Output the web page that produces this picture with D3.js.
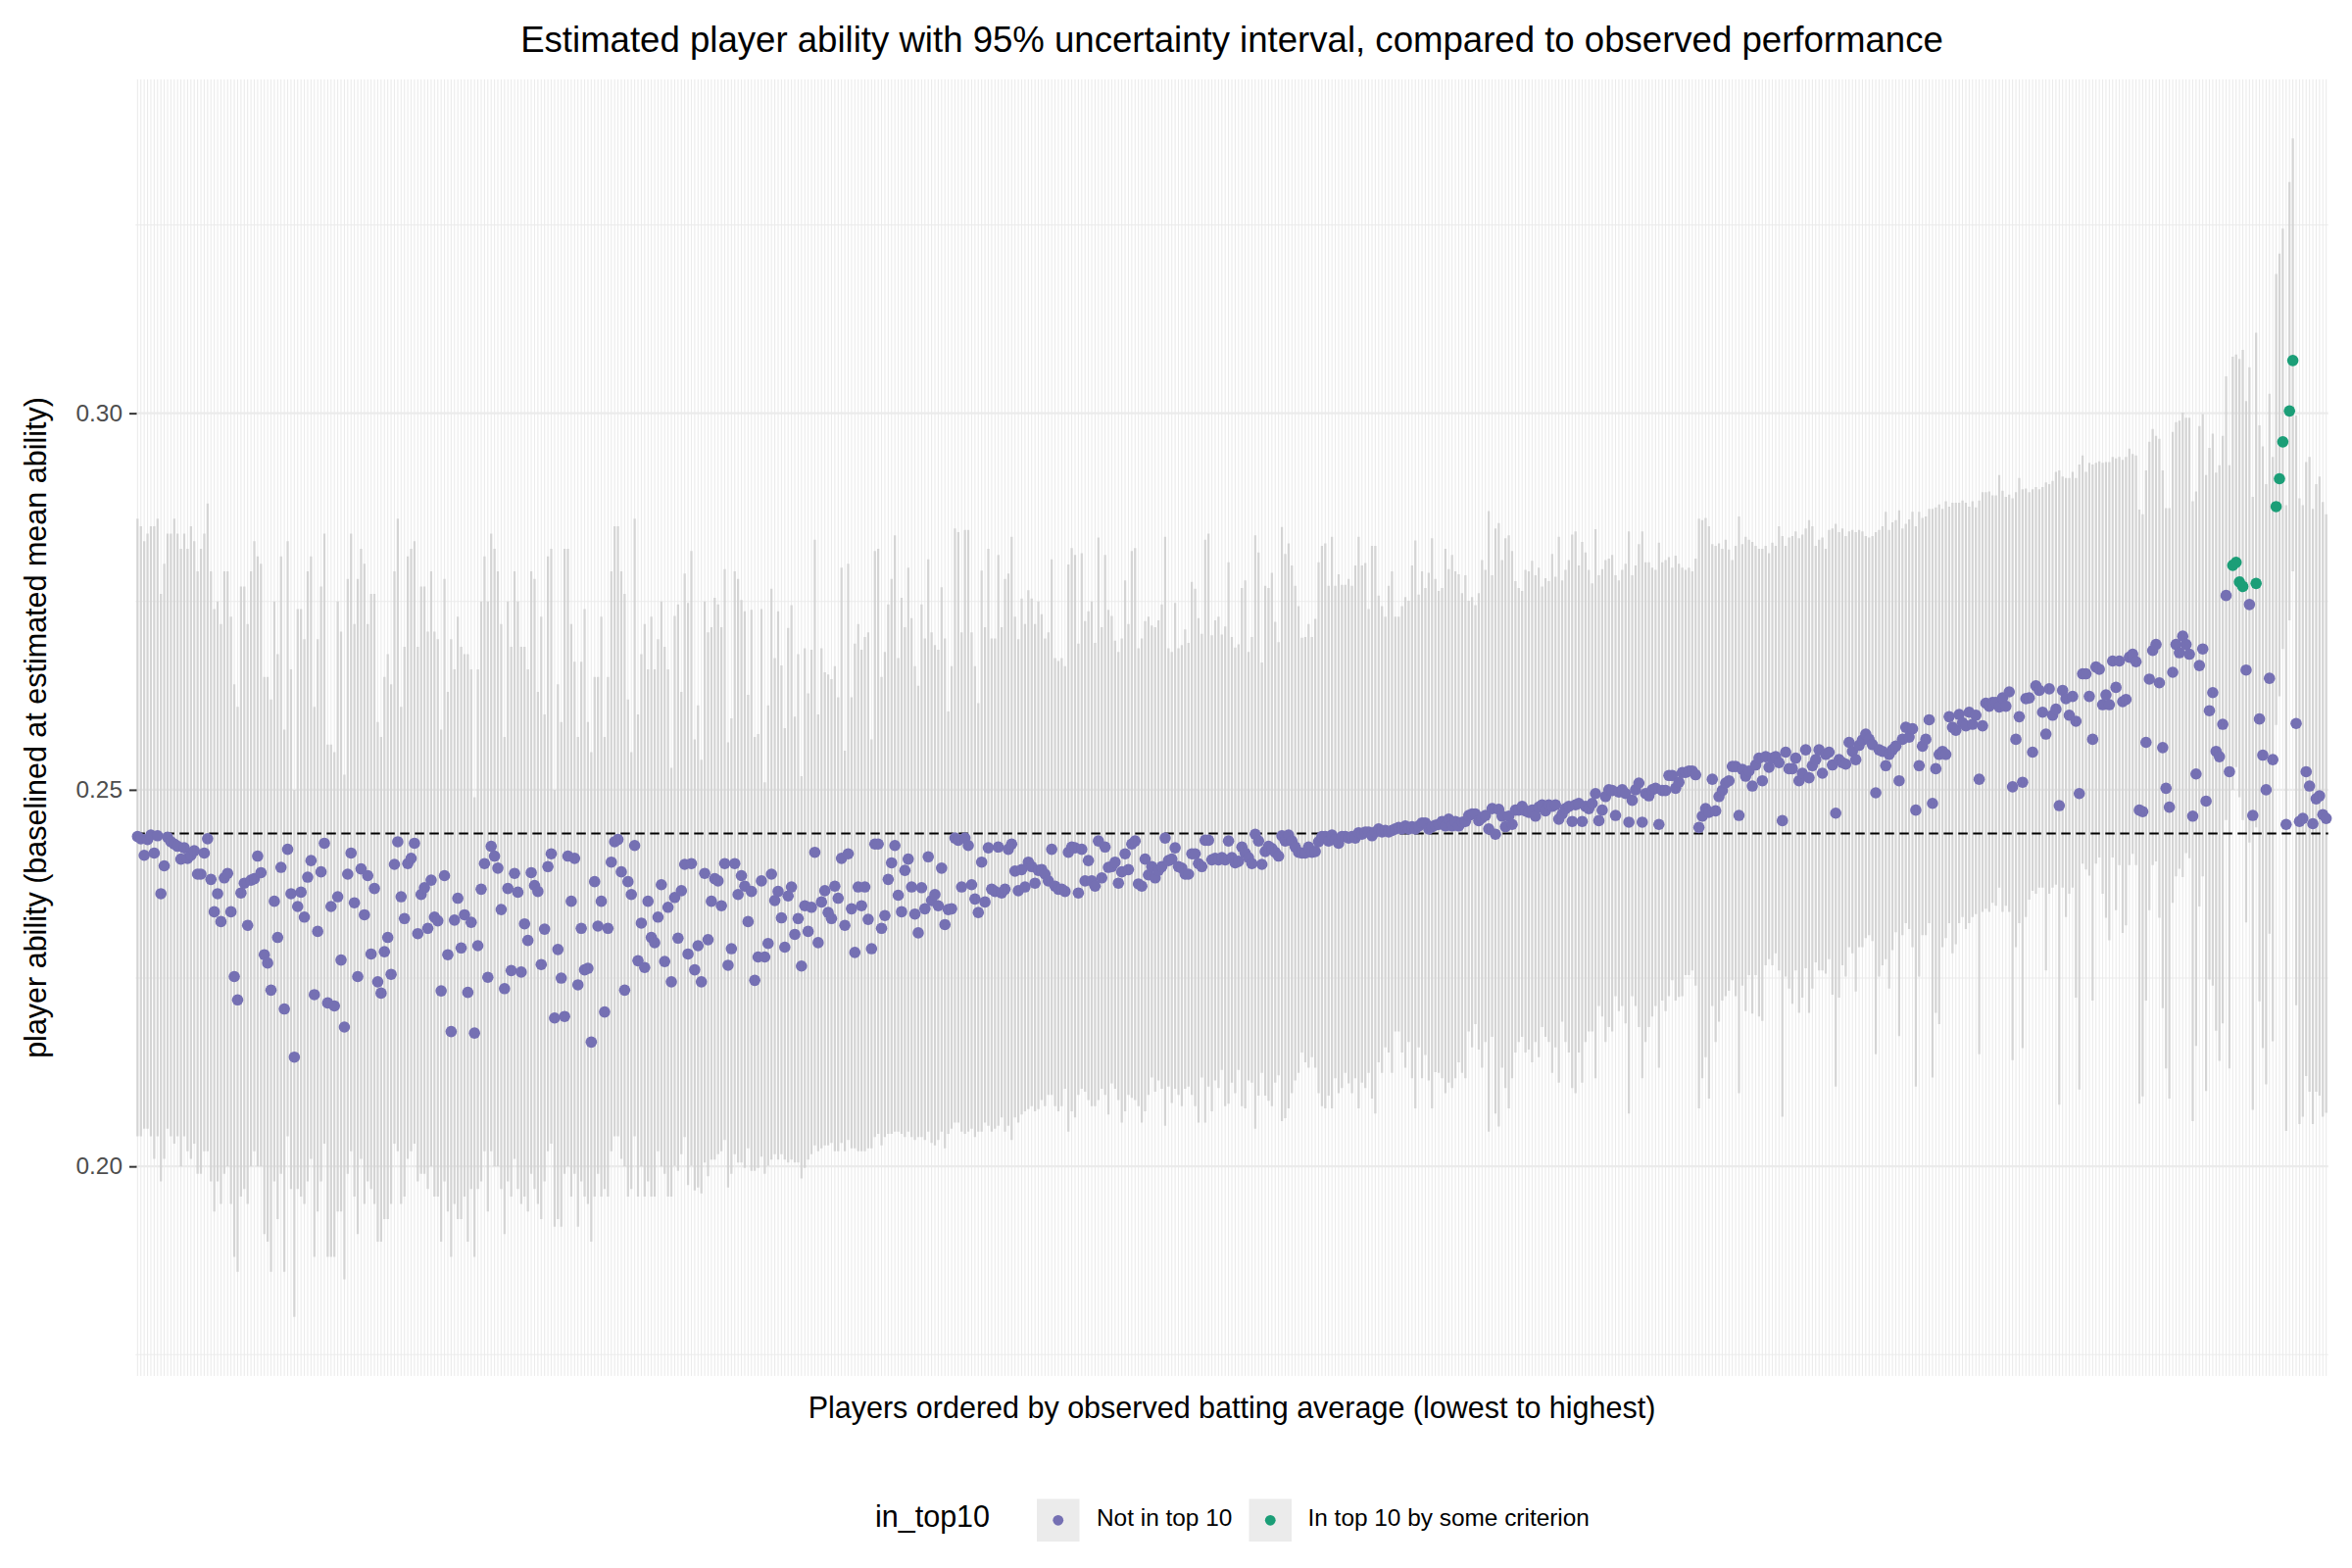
<!DOCTYPE html>
<html>
<head>
<meta charset="utf-8">
<script src="https://cdn.jsdelivr.net/npm/d3@7/dist/d3.min.js"></script>
<style>
  body { margin: 0; background: #ffffff; }
  svg { display: block; }
  text { font-family: "Liberation Sans", Arial, Helvetica, sans-serif; }
</style>
</head>
<body>
<svg id="chart" width="2400" height="1600"></svg>
<script>
// ---------------- DATA (values in thousandths of batting-average units) ----------------
// Point estimate of each player's ability, players ordered by observed batting average (rank 1 = lowest)
const estimateMilli = [
243.8,243.5,241.3,243.4,244.0,241.6,243.9,236.2,239.9,243.7,243.1,242.8,242.5,240.8,242.3,240.9,241.3,241.9,238.8,238.8,
241.6,243.5,238.1,233.8,236.2,232.5,238.3,238.9,233.8,225.2,222.1,236.3,237.6,232.0,238.0,238.2,241.2,239.0,228.1,227.0,
223.4,235.2,230.4,239.7,220.9,242.1,236.2,214.5,234.5,236.4,233.1,238.4,240.6,222.8,231.2,239.1,242.9,221.7,234.5,221.3,
235.8,227.4,218.5,238.8,241.6,235.0,225.2,239.5,233.4,238.6,228.2,236.9,224.5,223.0,228.5,230.4,225.5,240.1,243.1,235.8,
232.9,240.2,240.9,242.9,230.9,236.1,237.0,231.6,238.0,233.1,232.6,223.3,238.6,228.1,217.9,232.7,235.6,229.0,233.4,223.1,
232.4,217.7,229.3,236.8,240.2,225.1,242.5,241.2,239.6,234.1,223.6,236.9,226.0,238.9,236.4,225.8,232.2,230.0,239.0,237.3,
236.5,226.8,231.5,239.8,241.5,219.7,228.8,225.0,219.9,241.2,235.2,240.9,224.1,231.6,226.1,226.3,216.5,237.8,231.9,235.2,
220.5,231.6,240.4,243.1,243.4,239.1,223.4,237.8,236.1,242.6,227.3,232.3,226.4,235.2,230.4,229.7,233.1,237.4,227.2,
234.4,224.5,235.7,230.3,236.6,240.1,228.2,240.2,226.1,229.3,224.5,238.9,230.1,235.2,238.2,237.9,234.6,240.2,226.7,228.9,
240.2,236.1,238.6,237.2,232.5,236.5,224.7,227.8,237.9,227.8,229.6,238.8,235.3,236.5,233.0,229.1,235.9,237.1,230.8,232.9,
226.6,234.6,231.2,234.4,241.7,229.7,235.1,236.6,233.7,232.9,237.2,235.6,240.9,232.0,241.5,234.2,228.4,237.1,234.6,237.1,
232.8,228.9,242.8,242.8,231.6,233.3,238.1,240.3,242.6,236.0,233.8,239.3,240.8,237.1,233.5,231.0,237.0,234.2,241.1,235.3,
236.1,234.6,239.6,232.1,234.1,234.2,243.6,243.3,237.1,243.6,242.6,237.4,235.5,233.7,240.4,235.1,242.3,236.8,236.5,242.4,
236.3,236.8,242.1,242.8,239.2,236.6,239.4,237.1,240.4,239.8,237.6,239.3,239.4,238.8,237.9,242.1,237.2,236.8,236.8,236.5,
241.7,242.4,242.3,236.3,242.1,237.9,240.6,237.9,237.2,243.2,238.3,242.4,239.7,239.8,240.4,237.6,239.1,241.5,239.4,242.8,
243.2,237.5,237.2,240.8,238.7,239.8,238.3,239.3,239.8,243.6,240.6,240.8,242.3,239.8,239.6,238.8,238.8,241.5,241.5,240.2,
239.8,243.3,243.3,240.7,240.9,
240.7,241.0,240.7,243.2,241.0,240.3,240.5,242.4,241.6,241.0,240.2,244.1,243.2,240.1,241.8,242.5,242.2,241.7,241.2,243.9,
243.2,244.0,243.2,242.4,241.7,241.6,241.6,242.4,241.7,241.8,243.1,243.8,243.8,243.2,244.0,243.4,242.9,243.8,243.8,243.6,
243.8,243.6,244.3,244.1,244.4,244.4,243.9,244.4,244.8,244.4,244.6,244.4,244.6,244.8,245.0,244.8,245.2,244.8,245.1,244.8,
245.2,245.6,245.6,244.8,245.1,245.3,245.4,245.8,245.2,246.1,245.2,245.8,245.2,245.7,245.8,246.6,246.8,246.8,245.9,246.3,
246.6,244.8,247.5,244.1,247.4,246.5,245.1,246.5,245.4,247.3,247.3,247.8,247.2,247.0,247.3,246.5,247.7,248.0,247.2,248.0,
247.8,248.0,246.1,246.8,247.5,247.8,245.8,248.0,248.2,245.8,247.8,247.5,248.2,249.5,245.9,247.3,249.1,250.0,249.9,246.6,
249.7,250.0,249.5,245.7,248.6,250.0,250.9,245.7,249.5,249.2,250.0,250.2,245.4,249.9,249.9,251.9,251.9,250.2,251.0,252.3,
252.3,252.5,252.5,252.0,245.0,246.5,247.5,247.0,251.4,247.2,249.1,249.9,250.9,251.2,253.1,253.1,246.6,252.7,251.8,252.5,
250.5,253.3,254.2,
251.2,254.4,253.0,254.2,254.4,253.6,245.9,255.0,252.8,252.8,254.2,251.2,252.2,255.3,251.6,253.2,254.0,255.3,252.2,254.7,
255.0,253.3,246.9,254.0,253.6,253.4,256.3,255.1,254.0,255.9,256.6,257.4,256.7,256.0,249.6,255.3,255.1,253.2,254.7,255.3,
255.8,251.2,256.7,258.3,257.0,258.1,247.3,253.2,255.8,256.7,259.3,248.2,252.8,254.7,255.1,254.7,259.7,258.3,257.9,260.0,
258.9,258.5,260.3,258.7,259.9,251.4,258.5,261.5,261.1,261.6,261.6,261.0,262.2,261.1,263.0,250.4,256.7,259.7,251.0,262.1,
262.2,255.0,263.8,263.2,260.3,257.4,263.4,259.9,260.7,247.9,263.2,262.1,259.9,262.4,259.1,249.5,265.4,265.4,262.4,256.7,
266.3,266.0,261.3,
262.6,261.3,267.1,263.6,267.1,261.7,262.0,267.6,268.0,267.0,247.3,247.1,256.3,264.7,268.5,269.3,264.2,255.6,250.2,247.7,
265.6,269.3,268.2,270.4,269.3,268.0,246.5,252.1,266.5,268.7,248.5,260.5,262.9,255.1,254.4,258.7,275.8,252.4,279.8,280.2,
277.6,277.0,265.9,274.6,246.6,277.4,259.4,254.6,250.0,264.8,254.0,287.6,291.3,296.2,245.4,300.3,307.0,258.8,245.8,246.2,
252.4,250.5,245.5,248.8,249.2,246.7,246.2
];

// Lower end of the 95% uncertainty interval
const lowerMilli = [
204,204,205,205,204,201,204,198,201,205,204,203,204,200,204,202,201,203,199,199,
202,202,198,194,198,195,199,200,195,188,186,196,197,195,200,202,200,200,191,190,
186,198,193,199,186,204,197,180,197,196,195,198,201,188,194,198,203,188,188,188,
194,194,185,199,202,196,191,201,195,198,197,195,190,190,193,193,195,203,202,195,
196,201,202,203,198,199,199,197,200,196,196,190,198,194,188,195,193,193,196,190,
197,188,197,198,202,194,202,200,200,197,191,198,196,201,197,195,196,194,199,197,
195,193,198,202,203,192,193,192,199,200,196,199,192,198,196,195,190,196,199,196,
197,196,202,204,204,201,200,196,197,204,196,200,196,198,196,196,202,200,199,196,
196.0,200.1,199.4,201.6,203.9,197.5,200.1,196.8,197.2,196.4,200.5,198.7,200.9,200.9,201.6,202.0,203.5,197.2,199.0,201.6,
200.5,200.5,199.8,202.4,199.4,199.4,199.8,201.3,199.0,200.1,200.9,201.6,200.9,201.6,200.9,200.5,200.9,200.5,200.5,198.4,
199.8,200.9,201.6,202.8,202.0,202.4,202.8,202.8,203.1,202.0,202.0,203.1,202.0,203.5,202.4,202.4,202.0,202.0,202.0,202.4,
202.4,203.9,204.3,202.8,203.9,204.3,204.3,204.6,204.6,204.3,203.9,204.6,203.9,203.5,203.9,203.9,203.5,204.6,203.1,202.8,
203.5,204.6,202.4,204.3,205.0,205.8,205.8,204.6,204.3,204.6,205.0,203.9,204.6,204.6,205.8,205.4,204.6,205.0,205.4,206.5,
204.6,205.4,203.5,206.5,205.8,206.9,207.3,207.6,208.0,207.3,207.6,208.8,208.0,209.5,209.5,208.0,207.3,208.0,210.3,204.6,
207.3,206.5,209.5,210.3,209.9,208.8,208.0,208.0,208.8,210.3,209.5,206.9,211.0,210.3,208.8,205.8,207.3,209.5,209.1,208.8,
208.0,205.8,207.3,209.5,211.8,209.9,211.4,210.3,205.4,210.6,208.4,210.3,209.5,208.0,210.3,210.6,209.5,208.0,205.8,211.8,
205.8,210.6,207.3,211.4,
210.4,212.8,208.0,208.3,211.1,209.7,212.8,208.0,207.7,211.4,211.1,205.0,209.4,212.4,209.4,208.7,208.0,211.1,212.1,206.0,
206.4,207.7,209.7,211.4,212.4,215.1,213.8,213.1,214.5,213.1,209.7,208.0,207.7,209.4,207.7,211.7,209.7,210.4,212.4,211.0,
209.7,211.7,207.7,211.1,210.4,212.4,209.0,207.0,213.8,212.4,215.8,215.1,212.4,217.9,217.9,215.1,213.1,216.5,211.7,207.7,
215.8,211.7,214.8,211.4,207.7,212.5,212.4,211.7,209.7,211.1,210.4,211.7,213.8,212.4,211.7,217.9,215.8,218.9,215.5,213.1,
216.5,204.6,217.2,207.0,205.3,213.1,210.4,207.7,211.7,215.1,216.5,217.2,215.1,215.5,213.8,216.5,214.5,218.5,217.2,216.5,
212.4,215.8,211.1,219.2,216.5,215.1,210.4,209.7,215.1,211.1,216.5,217.9,217.9,211.7,221.3,219.9,216.5,218.5,217.9,222.6,
220.6,221.3,219.0,207.0,222.6,221.3,218.5,211.7,216.5,218.5,219.9,221.3,213.1,222.0,220.6,222.6,224.7,222.0,222.5,222.6,
225.4,225.4,226.0,224.0,207.7,211.7,214.5,209.0,221.3,216.5,219.2,222.0,222.6,223.3,224.7,222.6,209.7,224.0,220.6,225.4,
220.3,225.4,219.9,
219.3,226.7,227.5,226.7,228.3,226.0,206.6,225.2,223.6,221.6,226.0,220.4,222.4,226.3,220.4,223.6,227.1,226.0,226.0,225.6,
227.5,222.8,210.6,222.4,226.7,225.2,229.1,228.3,223.2,229.1,229.1,230.3,230.7,229.9,214.9,225.2,226.7,227.5,223.6,228.7,
231.1,217.3,230.7,232.3,231.5,229.1,210.6,225.2,230.7,230.7,232.3,211.8,220.4,218.9,229.1,230.3,232.3,228.3,229.5,232.3,
233.1,231.5,232.3,233.1,233.5,214.9,233.8,234.2,233.8,235.0,234.6,237.0,233.8,234.6,233.8,214.1,229.1,232.3,215.7,233.1,
235.4,236.6,236.2,237.0,237.0,226.0,236.2,237.0,237.4,208.2,237.0,233.1,236.2,237.0,222.4,210.2,240.2,239.4,238.6,222.0,
240.2,241.0,236.2,
233.0,230.0,241.0,234.0,240.0,231.0,232.0,240.0,241.5,240.0,208.3,209.3,222.0,234.0,240.0,240.5,233.0,221.0,213.0,209.0,
235.0,238.5,239.5,238.4,241.6,240.9,206.0,216.0,234.5,238.5,210.0,224.8,224.0,218.0,214.0,219.0,246.0,213.0,250.0,253.0,
249.0,246.0,232.4,243.0,207.5,245.0,221.9,215.7,210.9,230.9,216.6,258.6,262.4,268.7,204.7,272.5,279.0,221.4,205.6,206.6,
212.0,209.9,205.6,209.9,209.4,206.6,207.1
];

// Upper end of the 95% uncertainty interval
const upperMilli = [
286,285,283,284,285,285,286,276,280,284,284,286,284,282,284,282,285,283,279,282,
284,288,279,274,275,272,279,279,273,264,261,277,277,272,279,283,281,280,265,265,
262,275,268,281,258,283,266,250,274,274,270,279,281,261,270,277,284,256,256,255,
275,271,252,278,284,272,278,282,280,272,276,276,259,257,265,268,264,279,286,261,
269,281,282,283,269,277,277,271,279,271,270,258,278,263,270,266,273,269,268,268,
266,249,266,275,281,275,284,282,279,272,257,275,269,279,275,269,269,266,279,278,
263,273,260,281,282,250,264,259,282,282,272,267,257,267,274,259,255,265,265,273,
257,265,279,285,285,279,276,262,255,286,260,268,272,266,273,266,270,275,269,266,
252.9,273.1,274.6,263.0,278.7,274.8,281.7,256.7,261.2,254.0,275.0,270.9,271.6,275.5,274.6,271.6,279.3,256.3,259.5,279.0,
278.0,275.2,273.7,262.6,273.9,257.0,257.4,274.0,251.0,261.2,276.7,267.5,273.7,266.5,258.2,271.5,274.5,259.7,268.0,251.8,
268.8,262.8,268.6,283.2,260.0,268.8,265.6,265.3,264.7,266.4,262.3,279.5,255.2,280.0,262.3,269.4,272.0,268.6,270.3,270.9,
256.7,281.7,282.0,265.0,268.3,274.6,278.0,283.8,267.5,275.5,271.6,279.5,272.8,266.4,263.8,274.6,270.1,280.6,270.9,269.2,
268.6,276.9,270.1,260.4,266.4,284.7,284.2,270.9,284.5,284.5,270.9,266.4,261.5,279.1,271.6,282.0,270.1,270.1,281.2,271.6,
278.0,278.7,283.6,273.0,270.0,275.4,272.0,276.5,275.4,272.0,275.0,273.3,270.1,270.9,280.6,267.5,267.1,267.5,266.4,279.9,
282.1,281.2,269.4,281.4,272.4,273.7,275.0,269.5,283.5,271.6,281.2,273.9,273.1,269.8,268.3,270.1,277.8,272.0,281.7,282.1,
268.8,270.1,272.4,273.0,271.8,271.6,272.5,274.6,283.6,268.8,268.3,274.8,268.8,269.2,271.3,269.5,277.6,276.7,272.8,270.7,
283.2,284.0,270.5,272.5,
273.0,270.6,271.7,280.2,270.3,268.9,269.3,276.8,277.8,268.3,270.3,283.8,281.5,266.9,277.1,276.8,278.8,272.3,269.6,284.9,
281.3,282.7,279.8,277.1,274.4,270.2,270.3,272.0,270.3,272.7,280.2,282.4,282.7,277.1,283.6,277.1,278.6,277.2,277.2,278.0,
277.1,279.8,283.6,279.8,280.1,274.0,282.4,282.4,275.8,274.4,273.0,277.1,279.0,273.0,273.0,274.4,275.6,275.1,279.8,283.1,
275.9,279.0,276.8,278.8,283.4,278.0,276.4,276.8,282.0,279.3,281.2,279.0,278.6,276.1,278.5,275.1,275.6,274.5,276.1,280.5,
279.2,287.0,278.5,284.7,285.4,280.5,283.4,283.8,281.7,277.7,276.8,276.4,279.2,279.0,280.4,278.5,279.5,277.0,278.1,277.7,
281.3,278.3,283.6,277.8,279.2,280.5,283.9,284.3,279.8,282.9,281.5,279.2,277.4,284.6,278.5,279.3,280.5,280.7,281.2,278.5,
277.8,279.2,280.0,284.3,278.5,279.8,282.6,284.3,280.2,280.2,279.5,279.2,282.8,280.2,280.5,280.9,279.5,281.1,280.0,279.5,
279.2,279.5,279.0,280.7,286.0,285.8,286.1,285.0,282.6,282.4,282.7,282.0,283.2,281.9,280.5,282.4,286.3,282.6,283.6,283.2,
282.9,282.4,282.0,
282.0,282.4,281.4,282.8,282.4,285.0,283.7,282.4,283.5,283.7,284.3,283.4,283.9,284.7,285.8,285.0,282.4,283.2,283.5,282.0,
284.5,284.7,285.3,284.2,284.7,283.7,284.3,284.5,284.2,284.5,284.3,283.7,283.5,283.7,284.2,284.5,285.0,286.9,284.5,285.5,
285.8,287.1,284.7,285.3,285.9,286.9,285.0,286.9,286.1,286.3,287.3,287.3,287.5,287.9,287.3,288.3,287.6,288.1,288.1,288.1,
288.4,288.1,287.6,288.3,287.5,288.4,289.5,289.5,289.6,289.1,289.1,291.8,289.7,288.9,289.2,288.7,289.5,291.4,289.9,290.0,
289.5,289.9,290.2,289.9,290.2,290.8,290.6,291.0,292.2,292.4,291.6,291.4,291.4,292.2,291.4,293.2,294.4,292.2,293.4,293.2,
293.4,293.6,293.4,
293.5,293.5,294.2,294.0,294.2,293.8,294.2,295.3,294.6,294.4,287.2,286.6,292.4,296.2,297.9,297.0,296.6,292.4,287.4,287.4,
297.5,298.8,299.0,300.1,299.4,299.4,288.3,289.6,298.3,299.9,291.8,295.4,297.3,292.1,293.1,297.0,304.9,293.1,307.5,307.8,
307.2,308.4,301.6,306.1,288.9,310.7,298.4,295.6,290.6,302.6,294.2,318.5,321.2,324.5,287.8,330.7,336.5,299.7,288.7,287.8,
293.5,294.2,287.3,290.6,291.6,288.2,286.6
];

// Ranks (1 = lowest observed average) of players flagged "In top 10 by some criterion"
const top10Ranks = [629, 630, 631, 632, 636, 642, 643, 644, 646, 647];
// Estimated mean ability (dashed reference line), thousandths
const meanAbilityMilli = 244.2;

const yTicks = [0.20, 0.25, 0.30];
const yTickLabels = ["0.20", "0.25", "0.30"];
const yMinorTicks = [0.175, 0.225, 0.275, 0.325];
const groupLabels = ["Not in top 10", "In top 10 by some criterion"];
const groupColors = ["#7570B3", "#1B9E77"];

const titleText = "Estimated player ability with 95% uncertainty interval, compared to observed performance";
const xTitleText = "Players ordered by observed batting average (lowest to highest)";
const yTitleText = "player ability (baselined at estimated mean ability)";
const legendTitleText = "in_top10";

// ---------------- BUILD TABLE ----------------
const N = Math.min(estimateMilli.length, lowerMilli.length, upperMilli.length);
const rows = d3.range(N).map(i => ({
  rank: i + 1,
  est: estimateMilli[i] / 1000,
  lo: lowerMilli[i] / 1000,
  hi: upperMilli[i] / 1000,
  group: top10Ranks.includes(i + 1) ? 1 : 0
}));

// ---------------- LAYOUT ----------------
const svg = d3.select("#chart");
const P = { left: 138.3, right: 2375.7, top: 81, bottom: 1404 };

const x = d3.scalePoint()
  .domain(rows.map(d => d.rank))
  .range([P.left, P.right])
  .padding(0.6);

const lo = d3.min(rows, d => d.lo), hi = d3.max(rows, d => d.hi);
const pad = (hi - lo) * 0.05;
const y = d3.scaleLinear().domain([lo - pad, hi + pad]).range([P.bottom, P.top]);

// grid
const grid = svg.append("g");
grid.selectAll("line.vg").data(rows).join("line")
  .attr("x1", d => x(d.rank)).attr("x2", d => x(d.rank))
  .attr("y1", P.top).attr("y2", P.bottom)
  .attr("stroke", "#ebebeb").attr("stroke-width", 1.1);
grid.selectAll("line.hmin").data(yMinorTicks).join("line")
  .attr("x1", P.left).attr("x2", P.right)
  .attr("y1", d => y(d)).attr("y2", d => y(d))
  .attr("stroke", "#ebebeb").attr("stroke-width", 1.1);
grid.selectAll("line.hmaj").data(yTicks).join("line")
  .attr("x1", P.left).attr("x2", P.right)
  .attr("y1", d => y(d)).attr("y2", d => y(d))
  .attr("stroke", "#ebebeb").attr("stroke-width", 2.2);

// intervals
svg.append("g").selectAll("line").data(rows).join("line")
  .attr("x1", d => x(d.rank)).attr("x2", d => x(d.rank))
  .attr("y1", d => y(d.lo)).attr("y2", d => y(d.hi))
  .attr("stroke", "#d4d4d4").attr("stroke-width", 2.2);

// mean line
svg.append("line")
  .attr("x1", P.left).attr("x2", P.right)
  .attr("y1", y(meanAbilityMilli / 1000)).attr("y2", y(meanAbilityMilli / 1000))
  .attr("stroke", "#000").attr("stroke-width", 2.2)
  .attr("stroke-dasharray", "9.5,5.5");

// points
svg.append("g").selectAll("circle").data(rows).join("circle")
  .attr("cx", d => x(d.rank)).attr("cy", d => y(d.est))
  .attr("r", 5.8)
  .attr("fill", d => groupColors[d.group]);

// y axis
const yAxis = d3.axisLeft(y).tickValues(yTicks)
  .tickFormat((d, i) => yTickLabels[i])
  .tickSize(7.5).tickPadding(7);
const ga = svg.append("g").attr("transform", `translate(${P.left + 1.2},0)`).call(yAxis);
ga.select(".domain").remove();
ga.selectAll(".tick line").attr("stroke", "#333333").attr("stroke-width", 2);
ga.selectAll(".tick text")
  .attr("fill", "#4d4d4d")
  .style("font-size", "24.4px")
  .style("font-family", "'Liberation Sans', Arial, Helvetica, sans-serif");

// titles
const cx = (P.left + P.right) / 2;
svg.append("text").attr("x", cx).attr("y", 53)
  .attr("text-anchor", "middle").attr("fill", "#000")
  .style("font-size", "36.6px").text(titleText);
svg.append("text").attr("x", cx).attr("y", 1447)
  .attr("text-anchor", "middle").attr("fill", "#000")
  .style("font-size", "30.5px").text(xTitleText);
svg.append("text")
  .attr("transform", `translate(47,${(P.top + P.bottom) / 2}) rotate(-90)`)
  .attr("text-anchor", "middle").attr("fill", "#000")
  .style("font-size", "30.5px").text(yTitleText);

// legend
const lg = svg.append("g");
lg.append("text").attr("x", 893).attr("y", 1558)
  .attr("fill", "#000").style("font-size", "30.5px").text(legendTitleText);
const keyX = [1058, 1274.5];
const labX = [1119, 1334.5];
groupLabels.forEach((lab, i) => {
  lg.append("rect").attr("x", keyX[i]).attr("y", 1529.5)
    .attr("width", 43.5).attr("height", 43.5).attr("fill", "#ebebeb");
  lg.append("circle").attr("cx", keyX[i] + 21.75).attr("cy", 1551.3)
    .attr("r", 5.4).attr("fill", groupColors[i]);
  lg.append("text").attr("x", labX[i]).attr("y", 1557)
    .attr("fill", "#000").style("font-size", "24.4px").text(lab);
});
</script>
</body>
</html>
